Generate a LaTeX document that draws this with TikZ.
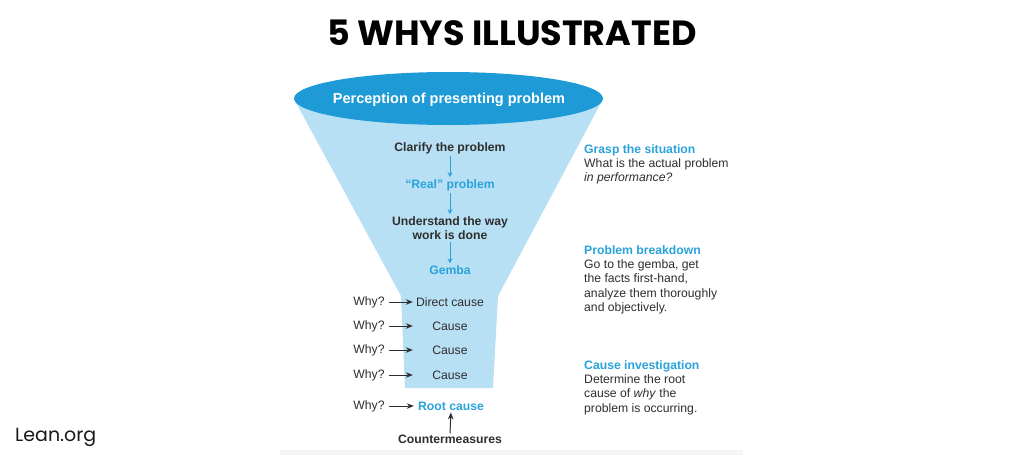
\documentclass[tikz,border=0pt]{standalone}
\usepackage{fontspec}
\setmainfont{Liberation Sans}
\newfontfamily\poppins{Poppins}
\usetikzlibrary{arrows.meta}
\definecolor{funneldark}{HTML}{1E9BD7}
\definecolor{funnellight}{HTML}{B8E0F4}
\definecolor{accent}{HTML}{2AA2DB}
\definecolor{ink}{HTML}{2E2E2E}
\newcommand\sidehd[1]{\textcolor{accent}{\bfseries #1}}
\begin{document}
\begin{tikzpicture}[x=1pt,y=-1pt,
  lbl/.style={font=\fontsize{12.2}{14.4}\selectfont, text=ink, inner sep=1pt},
  blbl/.style={lbl, font=\fontsize{12.2}{14.4}\selectfont\bfseries},
  bluelbl/.style={blbl, text=accent},
  causelbl/.style={lbl, minimum width=70pt},
  flow/.style={draw=accent, line width=1pt, -{Stealth[length=5pt,width=5pt]}, shorten >=1pt, shorten <=1pt},
  whyarrow/.style={draw=ink, line width=1pt, -{Stealth[length=7pt,width=5.5pt]}, shorten >=2pt, shorten <=3pt},
  side/.style={lbl, align=left, anchor=north west, inner sep=0pt},
]
\useasboundingbox (0,0) rectangle (1024,460);
\fill[white] (0,0) rectangle (1024,460);
% bottom shadow
\fill[black!4] (280,450) rectangle (743,455);
% funnel
\fill[funnellight] (294,99) -- (401,296) -- (405,388) -- (493,388) -- (498,296) -- (603,99) -- cycle;
\fill[funneldark] (448.5,98.5) ellipse [x radius=154.5, y radius=26.5];
% title and logo
\node[font=\poppins\bfseries\fontsize{35}{38}\selectfont, text=black] (title) at (512,33) {5 WHYS ILLUSTRATED};
\node[font=\poppins\fontsize{19}{22}\selectfont, text=black!90, anchor=west, inner sep=0pt] (lean) at (15,437) {Lean.org};
% funnel texts
\node[font=\fontsize{14.5}{16}\selectfont\bfseries, text=white] (perc) at (449,100) {Perception of presenting problem};
\node[blbl] (clarify) at (450,148) {Clarify the problem};
\node[bluelbl] (real) at (450,185) {“Real” problem};
\node[blbl, align=center] (understand) at (450,228) {Understand the way\\work is done};
\node[bluelbl] (gemba) at (450,270) {Gemba};
\draw[flow] (clarify) -- (real);
\draw[flow] (real) -- (understand);
\draw[flow] (understand) -- (gemba);
% why rows
\node[lbl] (w1) at (369,302) {Why?};
\node[lbl] (w2) at (369,326) {Why?};
\node[lbl] (w3) at (369,350) {Why?};
\node[lbl] (w4) at (369,375) {Why?};
\node[lbl] (w5) at (369,406) {Why?};
\node[causelbl] (c1) at (450,302) {Direct cause};
\node[causelbl] (c2) at (450,326) {Cause};
\node[causelbl] (c3) at (450,350) {Cause};
\node[causelbl] (c4) at (450,375) {Cause};
\node[causelbl, font=\fontsize{12.2}{14.4}\selectfont\bfseries, text=accent] (root) at (451,406) {Root cause};
\foreach \i in {1,...,4}{\draw[whyarrow] (w\i.east) -- (c\i.west);}
\draw[whyarrow] (w5.east) -- (root.west);
\node[blbl] (counter) at (450,439) {Countermeasures};
\draw[ink, line width=1pt, -{Stealth[length=7pt,width=5.5pt]}, shorten >=1pt] (counter.north) -- (root.south);
% side notes
\node[side] (grasp) at (584,144) {\sidehd{Grasp the situation}\\What is the actual problem\\\textit{in performance?}};
\node[side] (breakdown) at (584,245) {\sidehd{Problem breakdown}\\Go to the gemba, get\\the facts first-hand,\\analyze them thoroughly\\and objectively.};
\node[side] (investigation) at (584,360) {\sidehd{Cause investigation}\\Determine the root\\cause of \textit{why} the\\problem is occurring.};
\end{tikzpicture}
\end{document}
